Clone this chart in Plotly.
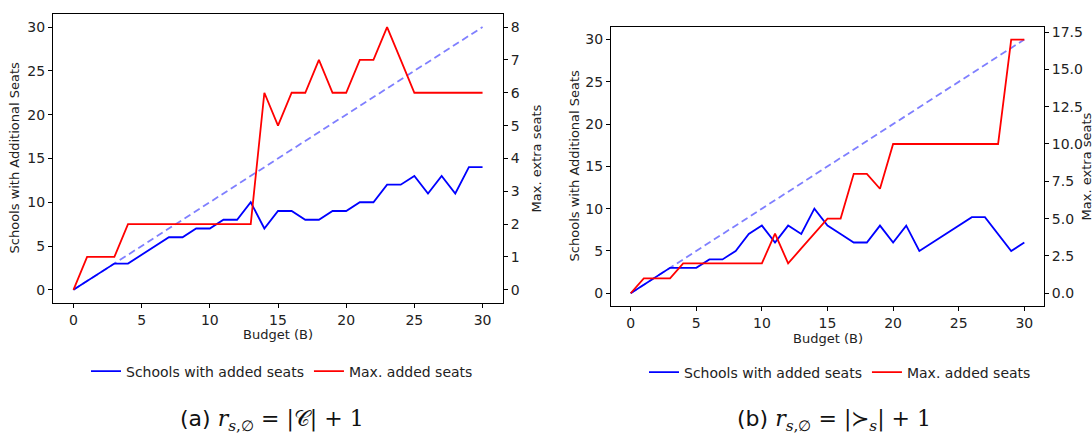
import plotly.graph_objects as go

budget = list(range(31))

# Panel (a): r_{s,∅} = |C| + 1
schools_a = [0, 1, 2, 3, 3, 4, 5, 6, 6, 7, 7, 8, 8, 10, 7, 9, 9, 8, 8, 9, 9, 10, 10, 12, 12, 13, 11, 13, 11, 14, 14]
maxseats_a = [0, 1, 1, 1, 2, 2, 2, 2, 2, 2, 2, 2, 2, 2, 6, 5, 6, 6, 7, 6, 6, 7, 7, 8, 7, 6, 6, 6, 6, 6, 6]

# Panel (b): r_{s,∅} = |≻_s| + 1
schools_b = [0, 1, 2, 3, 3, 3, 4, 4, 5, 7, 8, 6, 8, 7, 10, 8, 7, 6, 6, 8, 6, 8, 5, 6, 7, 8, 9, 9, 7, 5, 6]
maxseats_b = [0, 1, 1, 1, 2, 2, 2, 2, 2, 2, 2, 4, 2, 3, 4, 5, 5, 8, 8, 7, 10, 10, 10, 10, 10, 10, 10, 10, 10, 17, 17]

reference = budget  # y = x reference line

left_ticks = [0, 5, 10, 15, 20, 25, 30]
right_ticks_a = [0, 1, 2, 3, 4, 5, 6, 7, 8]
right_ticks_b = [0, 2.5, 5, 7.5, 10, 12.5, 15, 17.5]
x_ticks = [0, 5, 10, 15, 20, 25, 30]

BLUE = "#0000ff"
RED = "#ff0000"
DASH = "rgba(0,0,255,0.5)"
FONT = "DejaVu Sans"
LW = 1.8

fig = go.Figure()

# Panel a
fig.add_trace(go.Scatter(x=budget, y=reference, mode="lines", xaxis="x", yaxis="y",
                         line=dict(color=DASH, width=LW, dash="7px,4px"), showlegend=False))
fig.add_trace(go.Scatter(x=budget, y=schools_a, mode="lines", xaxis="x", yaxis="y",
                         line=dict(color=BLUE, width=LW), name="Schools with added seats", legend="legend"))
fig.add_trace(go.Scatter(x=budget, y=maxseats_a, mode="lines", xaxis="x", yaxis="y2",
                         line=dict(color=RED, width=LW), name="Max. added seats", legend="legend"))

# Panel b
fig.add_trace(go.Scatter(x=budget, y=reference, mode="lines", xaxis="x2", yaxis="y3",
                         line=dict(color=DASH, width=LW, dash="7px,4px"), showlegend=False))
fig.add_trace(go.Scatter(x=budget, y=schools_b, mode="lines", xaxis="x2", yaxis="y3",
                         line=dict(color=BLUE, width=LW), name="Schools with added seats", legend="legend2"))
fig.add_trace(go.Scatter(x=budget, y=maxseats_b, mode="lines", xaxis="x2", yaxis="y4",
                         line=dict(color=RED, width=LW), name="Max. added seats", legend="legend2"))

W, H = 1092, 441
def px_x(p):
    return p / W
def px_y(p):
    return 1 - p / H

ax_common = dict(showgrid=False, zeroline=False, showline=True, linecolor="black", linewidth=1,
                 ticks="outside", ticklen=4, tickcolor="black", tickfont=dict(family=FONT, size=14, color="#222"))

a_x = [px_x(53), px_x(503)]
a_y = [px_y(302), px_y(11)]
b_x = [px_x(611), px_x(1044)]
b_y = [px_y(305), px_y(24)]

fig.update_layout(
    width=W, height=H, margin=dict(l=0, r=0, t=0, b=0),
    plot_bgcolor="white", paper_bgcolor="white",
    font=dict(family=FONT, size=13, color="#222"),
    xaxis=dict(domain=a_x, anchor="y", range=[-1.5, 31.5], tickvals=x_ticks, mirror=True, **ax_common),
    yaxis=dict(domain=a_y, anchor="x", range=[-1.5, 31.5], tickvals=left_ticks, mirror=False, **ax_common),
    yaxis2=dict(overlaying="y", anchor="x", side="right", range=[-0.4, 8.4], tickvals=right_ticks_a, **ax_common),
    xaxis2=dict(domain=b_x, anchor="y3", range=[-1.5, 31.5], tickvals=x_ticks, mirror=True, **ax_common),
    yaxis3=dict(domain=b_y, anchor="x2", range=[-1.5, 31.5], tickvals=left_ticks, mirror=False, **ax_common),
    yaxis4=dict(overlaying="y3", anchor="x2", side="right", range=[-0.85, 17.85], tickvals=right_ticks_b,
                tickformat=".1f", **ax_common),
    legend=dict(orientation="h", x=px_x(282), y=px_y(371), xanchor="center", yanchor="middle",
                font=dict(family=FONT, size=14, color="#222"), bgcolor="rgba(0,0,0,0)"),
    legend2=dict(orientation="h", x=px_x(840), y=px_y(372), xanchor="center", yanchor="middle",
                 font=dict(family=FONT, size=14, color="#222"), bgcolor="rgba(0,0,0,0)"),
)

ann = [
    dict(text="Budget (B)", x=(a_x[0] + a_x[1]) / 2, y=px_y(334), showarrow=False, xanchor="center", yanchor="middle"),
    dict(text="Budget (B)", x=(b_x[0] + b_x[1]) / 2, y=px_y(338), showarrow=False, xanchor="center", yanchor="middle"),
    dict(text="Schools with Additional Seats", x=px_x(14), y=(a_y[0] + a_y[1]) / 2, textangle=-90,
         showarrow=False, xanchor="center", yanchor="middle"),
    dict(text="Schools with Additional Seats", x=px_x(574), y=(b_y[0] + b_y[1]) / 2, textangle=-90,
         showarrow=False, xanchor="center", yanchor="middle"),
    dict(text="Max. extra seats", x=px_x(536), y=(a_y[0] + a_y[1]) / 2, textangle=-90,
         showarrow=False, xanchor="center", yanchor="middle"),
    dict(text="Max. extra seats", x=px_x(1086), y=(b_y[0] + b_y[1]) / 2, textangle=-90,
         showarrow=False, xanchor="center", yanchor="middle"),
    dict(text="(a) <span style='font-family:DejaVu Serif'><i>r</i><sub><i>s</i>,∅</sub> = |𝒞| + 1</span>",
         x=px_x(272), y=px_y(420), showarrow=False, xanchor="center", yanchor="middle",
         font=dict(family=FONT, size=22, color="#111")),
    dict(text="(b) <span style='font-family:DejaVu Serif'><i>r</i><sub><i>s</i>,∅</sub> = |≻<sub><i>s</i></sub>| + 1</span>",
         x=px_x(834), y=px_y(420), showarrow=False, xanchor="center", yanchor="middle",
         font=dict(family=FONT, size=22, color="#111")),
]
for a in ann:
    a["xref"] = "paper"
    a["yref"] = "paper"
    a.setdefault("font", dict(family=FONT, size=13, color="#222"))
fig.update_layout(annotations=ann)

fig.write_html("out.html")
